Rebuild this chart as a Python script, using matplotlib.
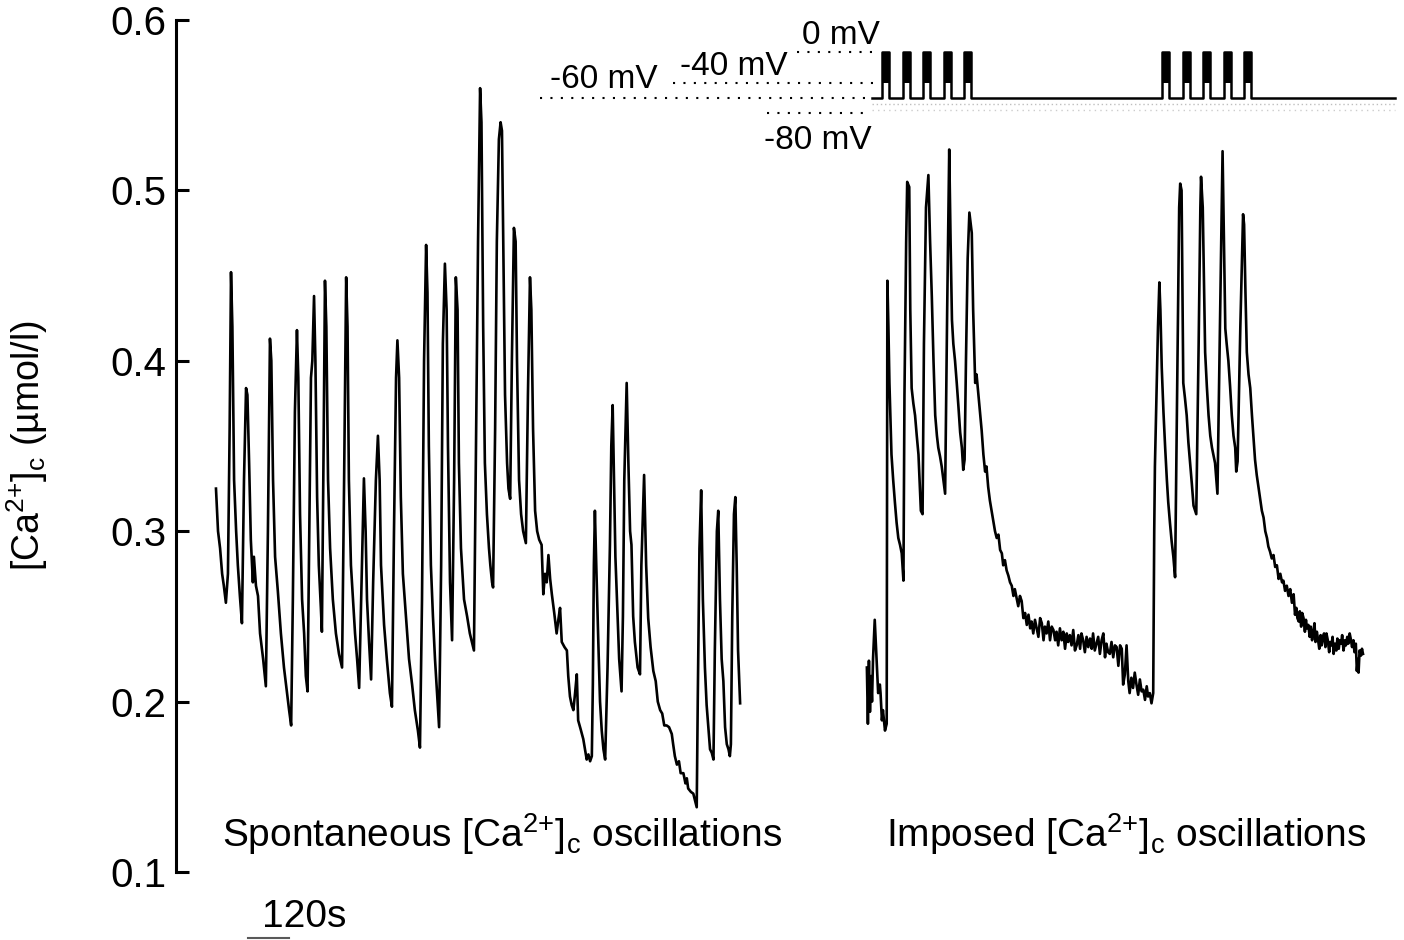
import matplotlib
matplotlib.use('Agg')
import matplotlib.pyplot as plt
import numpy as np

plt.rcParams['font.family'] = ['Liberation Sans', 'DejaVu Sans']
plt.rcParams['mathtext.default'] = 'regular'

# Spontaneous [Ca2+]c trace, time in s, [Ca2+]c in umol/l
spont_t = [0, 6, 12, 18, 23, 29, 35, 40, 44, 48, 53, 59, 64, 70, 76, 82, 88, 92, 97, 102,
           108, 111, 117, 123, 129, 138, 146, 152, 158, 162, 167, 173, 181, 190, 199, 208,
           214, 220, 225, 231, 237, 241, 246, 252, 258, 263, 268, 272, 278, 282, 287, 291,
           296, 301, 307, 310, 315, 319, 323, 328, 334, 342, 351, 360, 369, 375, 381, 385,
           389, 395, 401, 407, 413, 419, 426, 433, 438, 442, 448, 454, 460, 468, 474, 479,
           483, 492, 500, 509, 515, 521, 527, 531, 536, 541, 547, 556, 565, 574, 582, 591,
           597, 603, 609, 615, 619, 623, 629, 635, 641, 647, 653, 659, 664, 670, 675, 679,
           685, 691, 697, 702, 707, 711, 717, 726, 735, 743, 749, 755, 761, 767, 773, 777,
           782, 787, 793, 799, 803, 808, 811, 817, 822, 828, 833, 837, 842, 846, 852, 856,
           861, 866, 872, 877, 881, 887, 893, 899, 907, 913, 919, 923, 928, 934, 940, 946,
           953, 958, 963, 968, 973, 978, 983, 990, 997, 1002, 1007, 1012, 1020, 1027, 1031,
           1036, 1041, 1046, 1051, 1056, 1060, 1067, 1075, 1080, 1085, 1090, 1095, 1100,
           1103, 1106, 1109, 1113, 1119, 1124, 1129, 1134, 1139, 1146, 1153, 1157, 1161,
           1165, 1169, 1173, 1180, 1187, 1191, 1195, 1202, 1207, 1212, 1216, 1221, 1226,
           1234, 1241, 1245, 1253, 1259, 1265, 1272, 1280, 1287, 1293, 1300, 1306, 1312,
           1319, 1326, 1334, 1338, 1343, 1349, 1355, 1360, 1368, 1374, 1378, 1382, 1390,
           1397, 1402, 1407, 1410, 1415, 1420, 1425, 1431, 1436, 1441, 1446, 1451, 1456,
           1460, 1466, 1470, 1475, 1480, 1485, 1490, 1495, 1500, 1504, 1507, 1511, 1516,
           1520, 1524, 1528, 1532, 1534]
spont_ca = [0.325, 0.300, 0.290, 0.275, 0.268, 0.258, 0.275, 0.36, 0.452, 0.42, 0.33, 0.30,
            0.28, 0.262, 0.246, 0.33, 0.384, 0.380, 0.34, 0.295, 0.270, 0.285, 0.268, 0.262,
            0.24, 0.225, 0.209, 0.30, 0.413, 0.40, 0.33, 0.285, 0.265, 0.24, 0.22, 0.205,
            0.195, 0.186, 0.26, 0.37, 0.418, 0.39, 0.31, 0.26, 0.24, 0.215, 0.206, 0.28,
            0.39, 0.40, 0.438, 0.40, 0.32, 0.28, 0.255, 0.241, 0.35, 0.447, 0.42, 0.33,
            0.29, 0.26, 0.24, 0.228, 0.220, 0.33, 0.449, 0.42, 0.33, 0.28, 0.26, 0.24,
            0.225, 0.208, 0.27, 0.331, 0.30, 0.26, 0.235, 0.213, 0.27, 0.33, 0.356, 0.33,
            0.28, 0.245, 0.225, 0.205, 0.197, 0.30, 0.39, 0.412, 0.39, 0.32, 0.275, 0.25,
            0.225, 0.21, 0.195, 0.183, 0.173, 0.26, 0.40, 0.468, 0.44, 0.35, 0.28, 0.25,
            0.225, 0.205, 0.185, 0.28, 0.41, 0.457, 0.43, 0.35, 0.27, 0.236, 0.33, 0.449,
            0.43, 0.34, 0.29, 0.26, 0.25, 0.24, 0.235, 0.230, 0.35, 0.47, 0.560, 0.54,
            0.42, 0.34, 0.31, 0.29, 0.28, 0.27, 0.267, 0.36, 0.47, 0.53, 0.540, 0.535,
            0.45, 0.38, 0.34, 0.325, 0.319, 0.40, 0.478, 0.47, 0.40, 0.33, 0.31, 0.30,
            0.293, 0.38, 0.449, 0.43, 0.36, 0.312, 0.30, 0.295, 0.292, 0.263, 0.275,
            0.270, 0.286, 0.272, 0.263, 0.252, 0.240, 0.248, 0.255, 0.235, 0.232, 0.230,
            0.215, 0.203, 0.198, 0.195, 0.205, 0.216, 0.189, 0.184, 0.178, 0.172, 0.166,
            0.169, 0.165, 0.168, 0.21, 0.28, 0.312, 0.28, 0.235, 0.200, 0.183, 0.172,
            0.166, 0.22, 0.292, 0.35, 0.374, 0.33, 0.285, 0.263, 0.225, 0.206, 0.25, 0.33,
            0.387, 0.34, 0.30, 0.292, 0.25, 0.235, 0.22, 0.216, 0.28, 0.333, 0.28, 0.249,
            0.232, 0.218, 0.212, 0.200, 0.195, 0.193, 0.186, 0.186, 0.185, 0.181, 0.175,
            0.168, 0.163, 0.165, 0.158, 0.158, 0.152, 0.155, 0.149, 0.147, 0.146, 0.142,
            0.138, 0.20, 0.29, 0.324, 0.26, 0.22, 0.198, 0.185, 0.172, 0.17, 0.166, 0.23,
            0.30, 0.312, 0.26, 0.225, 0.212, 0.185, 0.175, 0.172, 0.168, 0.175, 0.25,
            0.31, 0.320, 0.28, 0.23, 0.21, 0.199]

# Imposed [Ca2+]c trace
imp_t = [1905, 1908, 1911, 1914, 1917, 1920, 1923, 1928, 1933, 1938, 1943, 1945, 1949,
         1952, 1958, 1963, 1965, 1968, 1971, 1977, 1982, 1987, 1992, 1997, 2002, 2007,
         2012, 2015, 2020, 2023, 2029, 2032, 2036, 2041, 2046, 2051, 2056, 2063, 2068,
         2072, 2078, 2085, 2090, 2095, 2100, 2105, 2110, 2114, 2119, 2124, 2129, 2134,
         2140, 2146, 2150, 2154, 2158, 2163, 2168, 2173, 2178, 2183, 2187, 2191, 2195,
         2200, 2205, 2212, 2216, 2222, 2226, 2231, 2236, 2241, 2246, 2251, 2255, 2260,
         2265, 2270, 2275, 2280, 2285, 2290, 2295, 2300, 2304, 2309, 2314, 2319, 2324,
         2329, 2334, 2338, 2343, 2348, 2353, 2358, 2363, 2368, 2373, 2378, 2383, 2387,
         2392, 2397, 2402, 2407, 2412, 2417, 2422, 2426, 2431, 2436, 2441, 2446, 2451,
         2456, 2460, 2465, 2470, 2475, 2480, 2485, 2490, 2494, 2499, 2504, 2509, 2514,
         2519, 2524, 2529, 2533, 2538, 2543, 2548, 2553, 2558, 2563, 2567, 2572, 2577,
         2582, 2587, 2592, 2597, 2602, 2606, 2611, 2616, 2621, 2626, 2631, 2636, 2641,
         2646, 2651, 2655, 2660, 2665, 2670, 2674, 2679, 2684, 2689, 2694, 2699, 2704,
         2709, 2714, 2719, 2724, 2728, 2733, 2738, 2743, 2746, 2748, 2753, 2757, 2761,
         2764, 2768, 2773, 2778, 2783, 2787, 2792, 2797, 2802, 2807, 2814, 2819, 2822,
         2826, 2831, 2836, 2841, 2846, 2851, 2856, 2861, 2869, 2876, 2881, 2883, 2888,
         2895, 2900, 2905, 2910, 2915, 2920, 2924, 2931, 2939, 2946, 2950, 2954, 2958,
         2963, 2968, 2973, 2978, 2983, 2986, 2990, 2998, 3006, 3009, 3013, 3017, 3022,
         3027, 3032, 3037, 3041, 3046, 3051, 3056, 3061, 3066, 3071, 3076, 3080, 3085,
         3090, 3095, 3100, 3105, 3110, 3115, 3120, 3124, 3129, 3134, 3139, 3144, 3149,
         3154, 3158, 3162, 3165, 3169, 3172, 3176, 3179, 3183, 3187, 3190, 3193, 3197,
         3201, 3204, 3208, 3211, 3215, 3218, 3222, 3225, 3229, 3233, 3236, 3240, 3243,
         3247, 3250, 3254, 3258, 3261, 3265, 3268, 3271, 3275, 3279, 3282, 3286, 3289,
         3293, 3296, 3300, 3304, 3307, 3311, 3314, 3318, 3321, 3325, 3329, 3332, 3336,
         3339, 3342, 3344, 3347, 3351, 3354, 3357]
imp_ca = [0.220, 0.187, 0.224, 0.194, 0.215, 0.200, 0.225, 0.248, 0.226, 0.205, 0.210,
          0.205, 0.189, 0.195, 0.183, 0.187, 0.447, 0.42, 0.387, 0.345, 0.33, 0.317, 0.305,
          0.296, 0.292, 0.287, 0.271, 0.38, 0.47, 0.505, 0.502, 0.43, 0.384, 0.375, 0.368,
          0.356, 0.345, 0.312, 0.310, 0.41, 0.49, 0.509, 0.47, 0.438, 0.40, 0.368, 0.356,
          0.349, 0.344, 0.338, 0.330, 0.322, 0.43, 0.524, 0.47, 0.424, 0.41, 0.400, 0.387,
          0.373, 0.358, 0.349, 0.336, 0.342, 0.40, 0.46, 0.487, 0.475, 0.43, 0.387, 0.392,
          0.381, 0.37, 0.359, 0.345, 0.335, 0.338, 0.326, 0.318, 0.312, 0.306, 0.300,
          0.296, 0.298, 0.289, 0.287, 0.280, 0.283, 0.277, 0.274, 0.270, 0.268, 0.262,
          0.266, 0.261, 0.256, 0.262, 0.259, 0.249, 0.252, 0.245, 0.251, 0.243, 0.247,
          0.240, 0.248, 0.243, 0.238, 0.249, 0.246, 0.236, 0.244, 0.240, 0.247, 0.236,
          0.244, 0.242, 0.236, 0.241, 0.233, 0.243, 0.236, 0.241, 0.231, 0.240, 0.235,
          0.239, 0.233, 0.242, 0.230, 0.233, 0.239, 0.231, 0.240, 0.236, 0.229, 0.238,
          0.232, 0.237, 0.231, 0.240, 0.230, 0.234, 0.238, 0.228, 0.236, 0.240, 0.226,
          0.234, 0.229, 0.228, 0.235, 0.226, 0.233, 0.232, 0.221, 0.233, 0.231, 0.210,
          0.216, 0.233, 0.212, 0.205, 0.214, 0.208, 0.217, 0.210, 0.204, 0.213, 0.206,
          0.207, 0.201, 0.209, 0.203, 0.205, 0.199, 0.205, 0.30, 0.338, 0.384, 0.42, 0.446,
          0.43, 0.396, 0.37, 0.349, 0.33, 0.317, 0.305, 0.294, 0.285, 0.273, 0.40, 0.49,
          0.504, 0.50, 0.387, 0.378, 0.368, 0.352, 0.340, 0.328, 0.315, 0.310, 0.41, 0.49,
          0.508, 0.49, 0.405, 0.385, 0.368, 0.356, 0.349, 0.344, 0.340, 0.322, 0.43, 0.523,
          0.47, 0.419, 0.41, 0.400, 0.385, 0.368, 0.356, 0.349, 0.335, 0.341, 0.42, 0.486,
          0.48, 0.44, 0.405, 0.392, 0.384, 0.368, 0.354, 0.342, 0.333, 0.326, 0.319, 0.312,
          0.308, 0.300, 0.296, 0.291, 0.288, 0.284, 0.286, 0.279, 0.280, 0.272, 0.275,
          0.270, 0.271, 0.265, 0.268, 0.262, 0.266, 0.258, 0.263, 0.251, 0.255, 0.249,
          0.247, 0.253, 0.244, 0.252, 0.249, 0.241, 0.248, 0.243, 0.245, 0.238, 0.244,
          0.236, 0.240, 0.246, 0.235, 0.241, 0.237, 0.231, 0.239, 0.233, 0.238, 0.240,
          0.232, 0.240, 0.236, 0.229, 0.235, 0.233, 0.238, 0.228, 0.234, 0.230, 0.237,
          0.231, 0.236, 0.234, 0.239, 0.230, 0.236, 0.233, 0.238, 0.234, 0.240, 0.237,
          0.232, 0.236, 0.229, 0.234, 0.218, 0.225, 0.217, 0.230, 0.227, 0.231, 0.228]

# Voltage protocol (mV)
hold_mv = -60
pulse_mv = 0
burst_mv = -40
pulse_starts = [1950, 2010, 2070, 2130, 2190, 2770, 2830, 2890, 2950, 3010]
pulse_width = 20
protocol_start = 1920
protocol_end = 3450

level_mv = [0, -40, -60, -80]
level_names = ['0 mV', '-40 mV', '-60 mV', '-80 mV']
level_from = [1700, 1338, 948, 1613]
level_to = [1944, 1938, 1914, 1894]

fig = plt.figure(figsize=(14.04, 9.40), dpi=100)
ax = fig.add_axes([176 / 1404, 68 / 940, 1228 / 1404, 852 / 940])

ax.plot(spont_t, spont_ca, color='black', lw=1.9)
ax.plot(imp_t, imp_ca, color='black', lw=1.9)

ax.set_xlim(-117, 3477)
ax.set_ylim(0.1, 0.6)
ax.set_yticks([0.1, 0.2, 0.3, 0.4, 0.5, 0.6])
ax.set_yticklabels(['0.1', '0.2', '0.3', '0.4', '0.5', '0.6'])
ax.set_xticks([])
for side in ['top', 'right', 'bottom']:
    ax.spines[side].set_visible(False)
ax.spines['left'].set_linewidth(2.2)
ax.tick_params(axis='y', direction='in', length=9.5, width=2.2,
               labelsize=29, pad=7)
ax.set_ylabel(r'[Ca$^{2{+}}$]$_c$ (µmol/l)', fontsize=27)
ax.yaxis.set_label_coords(-0.103, 0.5)

ax.text(18, 0.115, r'Spontaneous [Ca$^{2{+}}$]$_c$ oscillations', fontsize=28,
        ha='left', va='baseline')
ax.text(1961, 0.115, r'Imposed [Ca$^{2{+}}$]$_c$ oscillations', fontsize=28,
        ha='left', va='baseline')

# 120 s scale bar
ax.plot([94, 214], [0.0613, 0.0613], color='0.35', lw=1.5, clip_on=False)
ax.text(135, 0.0677, '120s', fontsize=28, ha='left', va='baseline')

# protocol drawn in its own frameless axes on top
ax2 = fig.add_axes([176 / 1404, 780 / 940, 1228 / 1404, 160 / 940], sharex=ax)
ax2.set_ylim(-141.6, 68.2)
ax2.axis('off')

px, py = [protocol_start], [hold_mv]
for p in pulse_starts:
    px += [p, p, p + pulse_width, p + pulse_width]
    py += [hold_mv, pulse_mv, pulse_mv, hold_mv]
    ax2.fill_between([p, p + pulse_width], burst_mv, pulse_mv, color='black', lw=0)
px.append(protocol_end)
py.append(hold_mv)
ax2.plot(px, py, color='black', lw=1.8)

# faint speckle under the holding level
ax2.plot([protocol_start, protocol_end], [-68, -68], color='0.75', lw=1.0,
         linestyle=(0, (1, 2)))
ax2.plot([protocol_start, protocol_end], [-76, -76], color='0.8', lw=1.0,
         linestyle=(0, (1, 3)))

for mv, a, b in zip(level_mv, level_from, level_to):
    ax2.plot([a, b], [mv, mv], color='black', lw=1.5, linestyle=(0, (1, 4)))

label_x = [1829, 1516, 1136, 1762]
label_y = [22.3, -18.4, -36.7, -115.4]
for name, lx, ly in zip(level_names, label_x, label_y):
    ax2.text(lx, ly, name, fontsize=24, ha='center', va='center')

fig.savefig('out.png', dpi=100)
